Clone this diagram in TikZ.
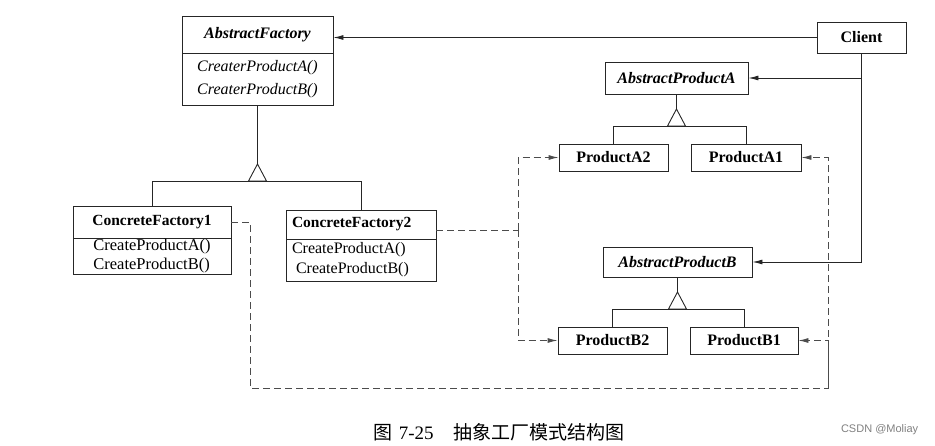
\documentclass[tikz,border=0pt]{standalone}
\usepackage{fontspec}
\setmainfont{Liberation Serif}
\setsansfont{Liberation Sans}
\newfontfamily\cjk{Noto Sans CJK SC}
\usetikzlibrary{positioning, arrows.meta, calc}

\begin{document}
\begin{tikzpicture}[
    x=1pt, y=-1pt,
    line width=0.9pt,
    classbox/.style={draw=black!85, inner sep=0pt, font=\fontsize{16}{19}\selectfont\bfseries},
    absbox/.style={classbox, font=\fontsize{16}{19}\selectfont\bfseries\itshape},
    opsbox/.style={draw=black!85, inner sep=0pt, align=left},
    assoc/.style={draw=black!85, -{Latex[length=10pt, width=5pt]}},
    dep/.style={draw=black!70, dash pattern=on 7pt off 4pt, -{Latex[length=10pt, width=5pt]}},
    inherit/.style={draw=black!85}
]
\useasboundingbox (0,0) rectangle (935,445);

% Client
\node[classbox, minimum width=89pt, minimum height=31pt] (client) at (861.5,37.5) {Client};

% Abstract factory
\node[absbox, minimum width=151pt, minimum height=37pt] (af) at (257.5,34.5) {AbstractFactory};
\node[opsbox, minimum width=151pt, minimum height=52pt, font=\fontsize{16}{23}\selectfont\itshape] (afops) at (257.5,79) {CreaterProductA()\\CreaterProductB()};

% Concrete factories
\node[classbox, minimum width=158pt, minimum height=32pt, font=\fontsize{15.5}{19}\selectfont\bfseries] (cf1) at (152,222) {ConcreteFactory1};
\node[opsbox, minimum width=158pt, minimum height=36pt, font=\fontsize{16.5}{19}\selectfont] (cf1ops) at (152,256) {CreateProductA()\\CreateProductB()};
\node[classbox, text width=138pt, inner xsep=6pt, minimum height=29pt, align=left, font=\fontsize{15.5}{19}\selectfont\bfseries] (cf2) at (361,224.5) {ConcreteFactory2};
\node[opsbox, text width=138pt, inner xsep=6pt, minimum height=42pt, font=\fontsize{16}{20}\selectfont] (cf2ops) at (361,260) {CreateProductA()\\\hspace*{4pt}CreateProductB()};

% Products
\node[absbox, minimum width=143pt, minimum height=32pt] (apA) at (676.5,78) {AbstractProductA};
\node[classbox, minimum width=109pt, minimum height=27pt] (pA2) at (613.5,157.5) {ProductA2};
\node[classbox, minimum width=110pt, minimum height=27pt] (pA1) at (746,157.5) {ProductA1};
\node[absbox, minimum width=149pt, minimum height=30pt] (apB) at (677.5,262) {AbstractProductB};
\node[classbox, minimum width=109pt, minimum height=27pt] (pB2) at (612.5,340.5) {ProductB2};
\node[classbox, minimum width=108pt, minimum height=27pt] (pB1) at (744,340.5) {ProductB1};

% Generalization
\foreach \base/\sub/\subb/\bar in {afops/cf1/cf2/181, apA/pA2/pA1/126, apB/pB2/pB1/309} {
    \pgfmathsetmacro{\tipy}{\bar-17}
    \coordinate (tip) at (\base.south |- 0,\tipy);
    \draw[inherit] (\base.south) -- (tip);
    \draw[inherit, line join=miter] (tip) -- ++(-9,17) -- ++(18,0) -- cycle;
    \draw[inherit] (\sub.north) |- (\subb.north |- 0,\bar) -- (\subb.north);
}

% Client associations
\draw[assoc] (client.west) -- (client.west -| af.east);
\draw[assoc] (client.south) |- (apB.east);
\draw[assoc] (client.south |- apA.east) -- (apA.east);

% Dependencies
\coordinate (depL) at (518,230);
\coordinate (depBL) at (250,388);
\coordinate (depBR) at (828,388);
\draw[dep, -] (depL -| cf2.east) -- (depL);
\draw[dep] (depL) |- (pA2.west);
\draw[dep] (depL) |- (pB2.west);
\draw[dep] (cf1.east) -| (depBL) -- (depBR) |- (pA1.east);
\draw[dep] (depBR) |- (pB1.east);

% Caption
\node[anchor=west, font=\fontsize{19}{21}\selectfont] (caption) at (370,432) {{\cjk 图}\hspace{6pt}7-25\hspace{20pt}{\cjk 抽象工厂模式结构图}};
\node[anchor=east, text=black!50, font=\sffamily\fontsize{11}{13}\selectfont] (credit) at (922,430) {CSDN @Moliay};

\end{tikzpicture}
\end{document}
